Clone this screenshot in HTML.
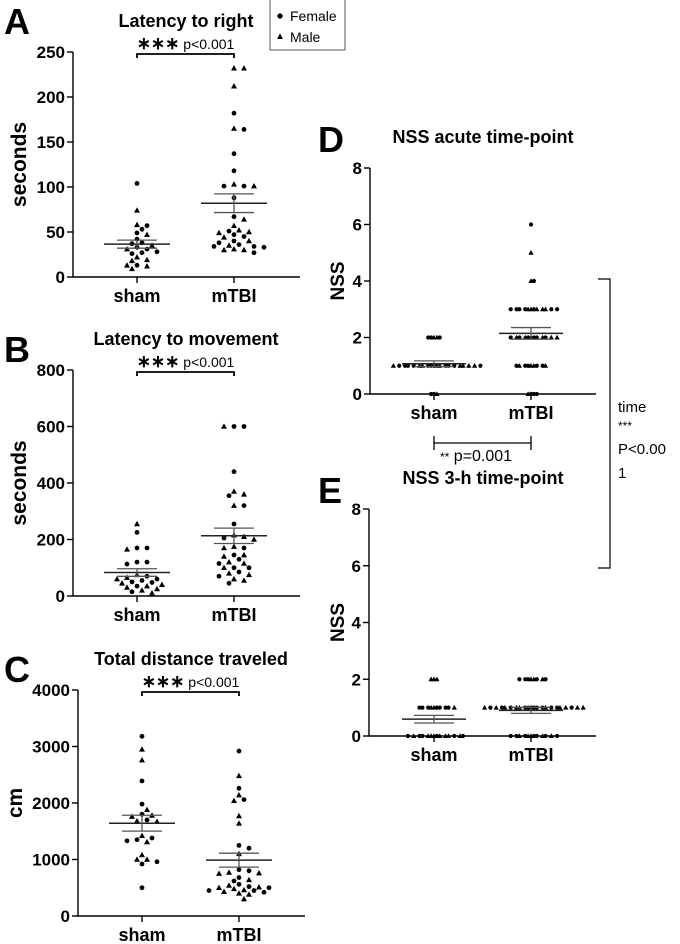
<!DOCTYPE html>
<html><head><meta charset="utf-8"><style>
html,body{margin:0;padding:0;background:#fff;}
svg{display:block;font-family:"Liberation Sans",Arial,sans-serif;}
</style></head><body>
<svg id="fig" width="680" height="944" viewBox="0 0 680 944" xmlns="http://www.w3.org/2000/svg">
<g>
<rect x="270" y="-1" width="75" height="51" fill="#fff" stroke="#555" stroke-width="1"/>
<circle cx="280" cy="16" r="2.6" fill="#000"/>
<text x="290" y="21" font-size="14">Female</text>
<path d="M277,39 L283,39 L280,33.5 Z" fill="#000"/>
<text x="290" y="42" font-size="14">Male</text>
</g>
<g>
<path d="M598,279 H610 V568 H598" fill="none" stroke="#000" stroke-width="1.2"/>
<text x="618" y="412" font-size="15">time</text>
<text x="618" y="430" font-size="12">***</text>
<text x="618" y="454" font-size="15">P&lt;0.00</text>
<text x="618" y="478" font-size="15">1</text>
</g>
</svg>
<script>
// ---------- data ----------
const categories = ["sham","mTBI"];
const aShamVals = [104,74,58,57,53,49,47,42,38,37,35,33,31,31,28,27,26,22,19,18,13,13,12,9];
const aShamSex  = ["F","M","M","F","F","F","M","F","F","F","M","F","F","M","F","F","F","M","M","M","F","M","M","M"];
const aTbiVals = [232,232,212,182,165,164,137,118,103,101,101,101,88,67,64,57,52,51,50,49,47,45,44,40,40,38,36,35,34,34,33,31,30,30,27];
const aTbiSex  = ["M","M","M","F","M","F","F","F","M","F","F","M","F","F","M","M","M","F","M","M","F","F","M","F","M","F","F","M","F","F","F","M","M","M","F"];
const aTicks = [0,50,100,150,200,250];
const bShamVals = [255,225,170,170,165,120,120,113,75,70,65,60,60,55,50,48,45,40,35,35,30,25,20,15,10];
const bShamSex  = ["M","F","F","F","M","F","F","F","M","F","M","F","M","F","F","F","M","M","F","M","M","M","M","F","M"];
const bTbiVals = [600,600,600,440,370,360,355,320,320,255,215,210,205,200,175,170,170,145,145,140,130,120,115,115,100,100,100,85,80,75,70,60,55,45];
const bTbiSex  = ["F","F","M","F","M","M","F","M","F","F","M","M","F","M","M","F","M","F","M","M","F","M","M","F","F","M","F","F","M","M","F","M","M","F"];
const bTicks = [0,200,400,600,800];
const cShamVals = [3180,2950,2760,2390,1980,1880,1800,1780,1760,1700,1680,1670,1420,1380,1350,1330,1310,1080,1000,1000,960,920,500];
const cShamSex  = ["F","M","M","F","F","M","F","M","M","F","M","M","M","F","F","F","M","M","M","M","F","F","F"];
const cTbiVals = [2920,2480,2260,2140,2060,2040,1770,1640,1250,1200,1100,820,800,770,760,750,680,640,620,560,540,520,510,500,500,480,460,450,450,430,420,400,380,300];
const cTbiSex  = ["F","M","F","M","F","M","M","M","F","F","M","F","F","M","M","M","F","M","F","F","M","F","M","M","F","M","M","F","F","M","F","M","M","M"];
const cTicks = [0,1000,2000,3000,4000];
const dShamVals = [2,2,2,2,2,1,1,1,1,1,1,1,1,1,1,1,1,1,1,1,1,1,1,1,1,0,0,0];
const dShamSex  = ["M","M","F","F","F","F","M","F","M","F","F","M","F","M","F","F","M","F","M","F","M","F","M","M","F","F","M","F"];
const dTbiVals = [6,5,4,4,3,3,3,3,3,3,3,3,3,3,3,3,2,2,2,2,2,2,2,2,2,2,2,2,1,1,1,1,1,1,1,1,1,0,0,0,0];
const dTbiSex  = ["F","M","M","F","M","F","M","M","F","M","F","M","F","F","F","F","M","F","F","F","M","M","F","F","M","M","F","M","M","M","F","F","F","F","M","M","F","F","F","M","F"];
const eShamVals = [2,2,2,1,1,1,1,1,1,1,1,1,1,0,0,0,0,0,0,0,0,0,0,0,0,0,0];
const eShamSex  = ["M","M","M","M","F","M","F","F","F","F","F","F","M","M","F","M","M","M","M","F","M","F","F","M","M","F","F"];
const eTbiVals = [2,2,2,2,2,2,2,2,1,1,1,1,1,1,1,1,1,1,1,1,1,1,1,1,1,1,1,1,1,1,0,0,0,0,0,0,0,0,0,0,0,0];
const eTbiSex  = ["M","M","F","F","F","M","F","F","F","F","M","F","F","F","M","M","M","F","F","F","M","M","F","M","M","F","F","M","M","M","M","F","M","F","F","M","M","F","F","M","F","F"];
const nssTicks = [0,2,4,6,8];

// ---------- drawing ----------
const NS="http://www.w3.org/2000/svg";
const svg=document.getElementById('fig');
function mk(tag,attrs,parent){const e=document.createElementNS(NS,tag);for(const k in attrs)e.setAttribute(k,attrs[k]);(parent||svg).appendChild(e);return e;}

function panel(p){
  const g=mk('g',{});
  
  
  const max=p.ticks[p.ticks.length-1];
  const yS=v=>p.y0-(v/max)*(p.y0-p.yTop);
  const ax=mk('path',{d:`M${p.ax},${p.yTop} V${p.y0} H${p.xEnd}`,fill:'none',stroke:'#000','stroke-width':1.4},g);
  
  
  p.ticks.forEach(t=>{
    mk('line',{x1:p.ax-6,x2:p.ax,y1:yS(t),y2:yS(t),stroke:'#000','stroke-width':1.4},g);
    const tl=mk('text',{x:p.ax-8,y:yS(t)+6,'text-anchor':'end','font-size':17,'font-weight':'bold'},g);
    tl.textContent=t;
    
    
  });
  const yt=mk('text',{transform:`translate(${p.ytX},${(p.y0+p.yTop)/2}) rotate(-90)`,'text-anchor':'middle','font-size':p.ytSize,'font-weight':'bold'},g);
  yt.textContent=p.ylabel;
  
  
  const tt=mk('text',{x:p.titleX,y:p.titleY,'text-anchor':'middle','font-size':18,'font-weight':'bold'},g);
  tt.textContent=p.title;
  
  
  const lt=mk('text',{x:p.letterX,y:p.letterY,'font-size':36,'font-weight':'bold'},g);
  lt.textContent=p.letter;
  
  
  p.groups.forEach((grp,gi)=>{
    const cx=p.cx[gi];
    mk('line',{x1:cx,x2:cx,y1:p.y0,y2:p.y0+6,stroke:'#000','stroke-width':1.4},g);
    const cl=mk('text',{x:cx,y:p.y0+25,'text-anchor':'middle','font-size':18,'font-weight':'bold'},g);
    cl.textContent=categories[gi];
    
    
    const placed=[];
    grp.vals.forEach((v,i)=>{
      const y=yS(v);let off=0;
      for(let k=0;k<80;k++){
        const cand=(k===0)?0:(k%2?1:-1)*Math.ceil(k/2)*p.step;
        if(placed.every(q=>Math.hypot(q.x-cand,q.y-y)>=p.minD)){off=cand;break;}
      }
      placed.push({x:off,y:y});
      const x=cx+off, r=p.r;
      let m;
      if(grp.sex[i]==='F') m=mk('circle',{cx:x,cy:y,r:r,fill:'#000'},g);
      else m=mk('path',{d:`M${x-r*1.25},${y+r*0.95} L${x+r*1.25},${y+r*0.95} L${x},${y-r*1.3} Z`,fill:'#000'},g);
      
      
    });
    const n=grp.vals.length, mean=grp.vals.reduce((a,b)=>a+b,0)/n;
    const sd=Math.sqrt(grp.vals.reduce((a,b)=>a+(b-mean)**2,0)/(n-1)), sem=sd/Math.sqrt(n);
    const ml=mk('line',{x1:cx-p.mw,x2:cx+p.mw,y1:yS(mean),y2:yS(mean),stroke:'#222','stroke-width':1.5},g);
    
    
    const se=mk('path',{d:`M${cx-p.sw},${yS(mean+sem)} H${cx+p.sw} M${cx},${yS(mean+sem)} V${yS(mean-sem)} M${cx-p.sw},${yS(mean-sem)} H${cx+p.sw}`,fill:'none',stroke:'#555','stroke-width':1.3},g);
    
    
  });
  if(p.bracketY){
    const by=p.bracketY;
    const br=mk('path',{d:`M${p.cx[0]},${by+4} V${by} H${p.cx[1]} V${by+4}`,fill:'none',stroke:'#000','stroke-width':1.8},g);
    
    
    const st=mk('text',{x:(p.cx[0]+p.cx[1])/2,y:by-5,'text-anchor':'middle','font-size':14},g);
    st.innerHTML='<tspan font-size="17" font-weight="bold">∗∗∗</tspan> p&lt;0.001';
    
    
  }
}

const big={r:2.4,step:5,minD:6,mw:33,sw:20,ytSize:21};
const nss={r:2.1,step:2.9,minD:2.9,mw:32,sw:20,ytSize:19};
panel(Object.assign({name:'panel-a',letter:'A',letterX:4,letterY:34,title:'Latency to right',titleX:186,titleY:27,ylabel:'seconds',ytX:26,
  ax:73,y0:277,yTop:52,xEnd:300,cx:[137,234],ticks:aTicks,bracketY:54,
  groups:[{vals:aShamVals,sex:aShamSex},{vals:aTbiVals,sex:aTbiSex}]},big));
panel(Object.assign({name:'panel-b',letter:'B',letterX:4,letterY:362,title:'Latency to movement',titleX:186,titleY:345,ylabel:'seconds',ytX:26,
  ax:73,y0:596,yTop:370,xEnd:300,cx:[137,234],ticks:bTicks,bracketY:372,
  groups:[{vals:bShamVals,sex:bShamSex},{vals:bTbiVals,sex:bTbiSex}]},big));
panel(Object.assign({name:'panel-c',letter:'C',letterX:4,letterY:682,title:'Total distance traveled',titleX:191,titleY:665,ylabel:'cm',ytX:22,
  ax:78,y0:916,yTop:690,xEnd:305,cx:[142,239],ticks:cTicks,bracketY:692,
  groups:[{vals:cShamVals,sex:cShamSex},{vals:cTbiVals,sex:cTbiSex}]},big));
panel(Object.assign({name:'panel-d',letter:'D',letterX:318,letterY:152,title:'NSS acute time-point',titleX:483,titleY:143,ylabel:'NSS',ytX:344,
  ax:370,y0:394,yTop:168,xEnd:596,cx:[434,531],ticks:nssTicks,
  groups:[{vals:dShamVals,sex:dShamSex},{vals:dTbiVals,sex:dTbiSex}]},nss));
panel(Object.assign({name:'panel-e',letter:'E',letterX:318,letterY:503,title:'NSS 3-h time-point',titleX:483,titleY:484,ylabel:'NSS',ytX:344,
  ax:369,y0:736,yTop:509,xEnd:596,cx:[434,531],ticks:nssTicks,
  groups:[{vals:eShamVals,sex:eShamSex},{vals:eTbiVals,sex:eTbiSex}]},nss));

const gb=mk('path',{d:'M434,436 V450 M434,443 H531 M531,436 V450',fill:'none',stroke:'#000','stroke-width':1.3});


const gt=mk('text',{x:440,y:461,'font-size':16});
gt.innerHTML='<tspan font-size="12">**</tspan> p=0.001';


</script>
</body></html>
